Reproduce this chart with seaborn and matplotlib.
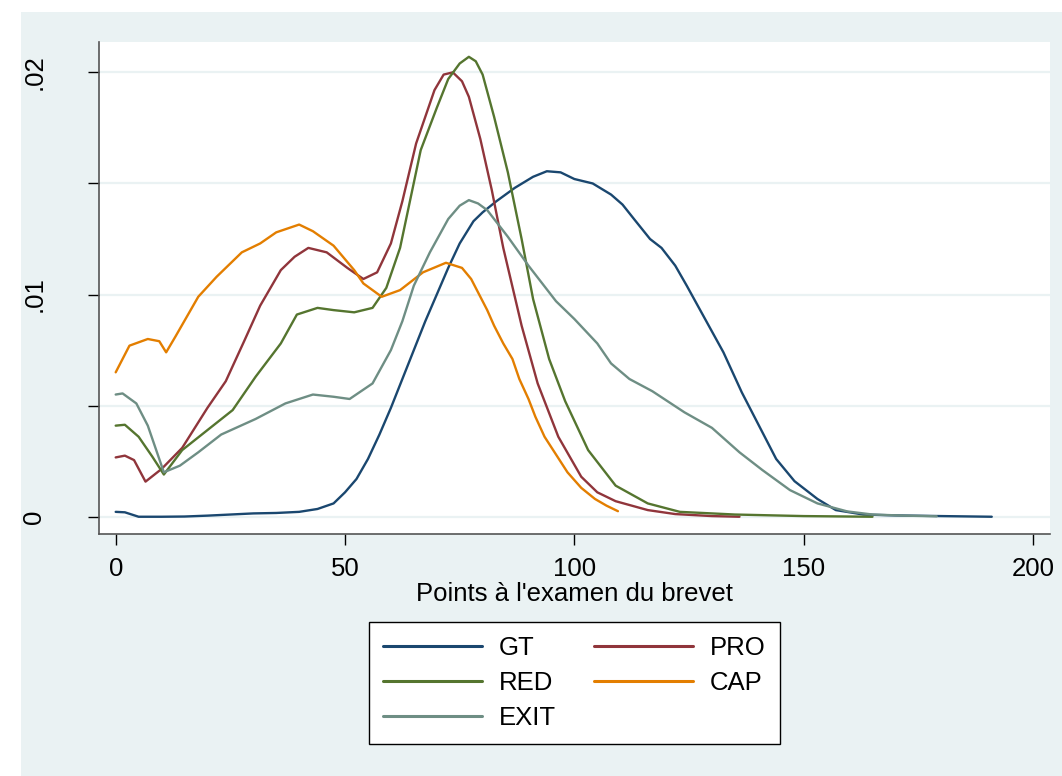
import pandas as pd
import matplotlib.pyplot as plt
import seaborn as sns
from matplotlib.patches import Rectangle

# valeurs (densités par filière)
gt_x = [0, 2, 5, 10, 15, 20, 25, 30, 35, 40, 44, 47.5, 50, 52.5, 55, 57.5, 60, 62.5, 65, 67.5,
        70, 72.5, 75, 78, 80, 83, 87, 91, 94, 97, 100, 104, 108, 110.5, 113, 116.5, 119, 122,
        124.5, 128.5, 132.5, 136.5, 141, 144, 148, 153, 157, 163, 170, 180, 191]
gt_y = [0.00022, 0.0002, 0.0, 0.0, 0.00001, 0.00005, 0.0001, 0.00015, 0.00017, 0.00022, 0.00035,
        0.0006, 0.0011, 0.0017, 0.0026, 0.0037, 0.0049, 0.0062, 0.0075, 0.0088,
        0.0100, 0.0112, 0.0123, 0.0133, 0.0137, 0.0142, 0.0148, 0.0153, 0.01555, 0.0155, 0.0152,
        0.0150, 0.0145, 0.01405, 0.0134, 0.0125, 0.0121, 0.0113,
        0.0104, 0.0089, 0.0074, 0.0056, 0.0038, 0.0026, 0.0016, 0.0008, 0.0003, 0.0001, 0.00006,
        0.00003, 0.0]

pro_x = [0, 2, 4, 6.5, 10, 14.5, 20, 24, 28, 31.5, 36, 39, 42, 46, 50.5, 54, 57, 60, 62.5, 65.5,
         69.5, 71.5, 73.5, 75.5, 77, 79.5, 82, 84.5, 88.5, 92, 96.5, 101.5, 105, 109, 116, 122,
         130, 136]
pro_y = [0.00267, 0.00275, 0.00255, 0.00158, 0.00215, 0.0031, 0.0049, 0.0061, 0.0079, 0.0095,
         0.0111, 0.0117, 0.0121, 0.0119, 0.0112, 0.0107, 0.0110, 0.0123, 0.0142, 0.0168,
         0.0192, 0.0199, 0.0200, 0.0196, 0.0189, 0.0170, 0.0147, 0.0121, 0.0086, 0.0060, 0.0036,
         0.0018, 0.0011, 0.0007, 0.0003, 0.00012, 0.00003, 0.0]

red_x = [0, 2, 5, 8, 10.5, 14.5, 20, 25.5, 30.5, 36, 39.5, 44, 47.5, 52, 56, 59, 62, 66.5, 70,
         72.5, 75, 77, 78.5, 80, 82.5, 85.5, 88.5, 91, 94.5, 98, 103, 109, 116, 123, 135, 150, 165]
red_y = [0.0041, 0.00414, 0.0036, 0.0027, 0.0019, 0.003, 0.0039, 0.0048, 0.0063, 0.0078, 0.0091,
         0.0094, 0.0093, 0.0092, 0.0094, 0.0103, 0.0121, 0.0165, 0.0184,
         0.0197, 0.0204, 0.0207, 0.0205, 0.0199, 0.0180, 0.0155, 0.0125, 0.0098, 0.0071, 0.0052,
         0.0030, 0.0014, 0.0006, 0.00022, 0.0001, 0.00003, 0.0]

cap_x = [0, 3, 7, 9.5, 11, 13, 18, 22, 27.5, 31.5, 35, 40, 43, 47.5, 52, 54, 58, 62, 67, 72,
         75.5, 77.5, 79, 81, 82.5, 84.5, 86.5, 88, 90, 91.5, 93.5, 96, 98.5, 101.5, 104.5, 107,
         109.5]
cap_y = [0.0065, 0.0077, 0.0080, 0.0079, 0.0074, 0.0081, 0.0099, 0.0108, 0.0119, 0.0123, 0.0128,
         0.01315, 0.01285, 0.0122, 0.0111, 0.0105, 0.0099, 0.0102, 0.0110, 0.01143,
         0.0112, 0.0107, 0.0101, 0.0093, 0.0086, 0.0078, 0.0071, 0.0062, 0.0053, 0.0045, 0.0036,
         0.0028, 0.002, 0.0013, 0.0008, 0.0005, 0.00025]

exit_x = [0, 1.5, 4.5, 7, 9, 10.5, 14, 18, 23, 30.5, 37, 43, 47.5, 51, 56, 60, 62.5, 65, 68.5,
          72.5, 75, 77, 79, 81, 85.5, 90, 96, 100, 105, 108, 112, 117, 124, 130, 136, 141, 147,
          153, 159.5, 165, 172, 179]
exit_y = [0.0055, 0.00555, 0.0051, 0.0041, 0.0029, 0.002, 0.0023, 0.0029, 0.0037, 0.0044, 0.0051,
          0.0055, 0.0054, 0.0053, 0.006, 0.0075, 0.0088, 0.0104, 0.0119,
          0.0134, 0.0140, 0.01425, 0.0141, 0.0138, 0.0126, 0.0113, 0.0097, 0.0089, 0.0078, 0.0069,
          0.0062, 0.00565, 0.0047, 0.0040, 0.0029, 0.0021, 0.0012,
          0.0006, 0.00024, 0.0001, 0.00005, 0.00002]

groups = ['GT', 'PRO', 'RED', 'CAP', 'EXIT']
colors = ['#1a476f', '#90353b', '#55752f', '#e37e00', '#6e8e84']

frames = []
for g, xs, ys in zip(groups, [gt_x, pro_x, red_x, cap_x, exit_x], [gt_y, pro_y, red_y, cap_y, exit_y]):
    frames.append(pd.DataFrame({'points': xs, 'densite': ys, 'groupe': g}))
data = pd.concat(frames, ignore_index=True)

sns.set_style('white')
plt.rcParams['font.family'] = ['Liberation Sans', 'DejaVu Sans']
plt.rcParams['text.color'] = 'black'
plt.rcParams['axes.labelcolor'] = 'black'

fig = plt.figure(figsize=(10.62, 7.76), dpi=100)
fig.patch.set_facecolor('white')
# fond du graphique façon Stata
fig.patches.append(Rectangle((21 / 1062, 0), 1 - 21 / 1062, 1 - 12 / 776,
                             transform=fig.transFigure, facecolor='#eaf2f3', edgecolor='none', zorder=-10))

ax = fig.add_axes([99 / 1062, 1 - 534.3 / 776, (1050 - 99) / 1062, (534.3 - 41.7) / 776])
ax.set_facecolor('white')

sns.lineplot(data=data, x='points', y='densite', hue='groupe', hue_order=groups,
             palette=dict(zip(groups, colors)), estimator=None, sort=False,
             linewidth=1.7, ax=ax, legend=False)

ax.set_xlim(-3.64, 203.7)
ax.set_ylim(-0.00079, 0.02138)

ax.set_yticks([0, 0.005, 0.01, 0.015, 0.02])
ax.set_yticklabels(['0', '', '.01', '', '.02'], rotation=90, va='center')
ax.set_xticks([0, 50, 100, 150, 200])
ax.set_xticklabels(['0', '50', '100', '150', '200'])
ax.yaxis.grid(True, color='#eaf2f3', linewidth=1.6)
ax.set_axisbelow(True)

for s in ['top', 'right']:
    ax.spines[s].set_visible(False)
for s in ['left', 'bottom']:
    ax.spines[s].set_color('#555555')
    ax.spines[s].set_linewidth(1.2)

ax.tick_params(axis='both', direction='out', length=8, width=1, color='black',
               labelsize=18.5, labelcolor='black', left=True, bottom=True)
ax.tick_params(axis='y', pad=30)
ax.tick_params(axis='x', pad=8)

ax.set_xlabel("Points à l'examen du brevet", fontsize=18.5, labelpad=1, color='black')
ax.set_ylabel('')

# légende en bas, deux colonnes
handles = {g: plt.Line2D([], [], color=c, linewidth=2.2) for g, c in zip(groups, colors)}
order = ['GT', 'RED', 'EXIT', 'PRO', 'CAP']
leg = ax.legend([handles[g] for g in order], order, ncol=2, loc='center',
                bbox_to_anchor=(574.5 / 1062, 1 - 683 / 776), bbox_transform=fig.transFigure,
                fontsize=18.5, frameon=True, fancybox=False, framealpha=1, handlelength=3.85,
                handletextpad=0.65, columnspacing=1.5, labelspacing=0.42, borderpad=0.55)
leg.get_frame().set_edgecolor('black')
leg.get_frame().set_linewidth(1.0)
leg.get_frame().set_facecolor('white')
for t in leg.get_texts():
    t.set_color('black')

plt.savefig('out.png', dpi=100)
